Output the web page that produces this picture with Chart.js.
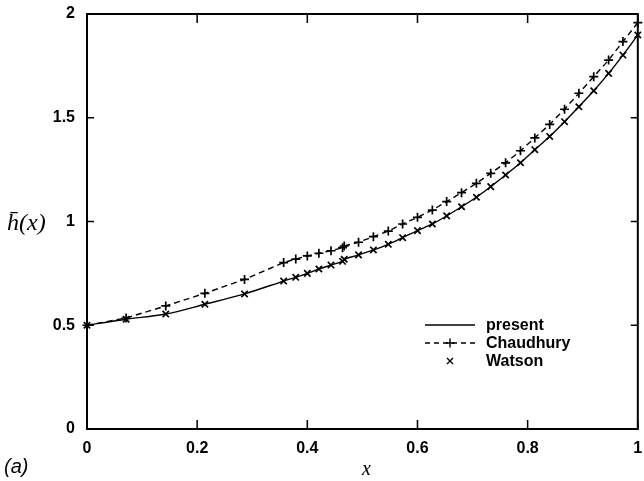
<!DOCTYPE html>
<html>
<head>
<meta charset="utf-8">
<script src="https://cdn.jsdelivr.net/npm/chart.js@4/dist/chart.umd.min.js"></script>
<style>
  html, body { margin: 0; padding: 0; background: #fff; }
  #wrap { width: 644px; height: 481px; }
</style>
</head>
<body>
<div id="wrap"><canvas id="myChart" width="644" height="481"></canvas></div>
<script>
// values
const xValues = [0, 0.071, 0.143, 0.214, 0.286, 0.357, 0.379, 0.4, 0.421, 0.443, 0.464, 0.467,
    0.493, 0.52, 0.547, 0.573, 0.6, 0.627, 0.653, 0.68, 0.707, 0.733, 0.76, 0.787, 0.813,
    0.84, 0.867, 0.893, 0.92, 0.947, 0.973, 1.0];
const chaudhuryY = [0.5, 0.535, 0.593, 0.654, 0.721, 0.802, 0.819, 0.834, 0.847, 0.859, 0.874, 0.882,
    0.9, 0.927, 0.954, 0.988, 1.02, 1.055, 1.096, 1.139, 1.184, 1.232, 1.283, 1.341, 1.403,
    1.468, 1.541, 1.618, 1.698, 1.778, 1.867, 1.958];
const watsonY = [0.5, 0.529, 0.554, 0.601, 0.651, 0.713, 0.731, 0.75, 0.771, 0.79, 0.808, 0.818,
    0.839, 0.863, 0.89, 0.922, 0.956, 0.988, 1.027, 1.071, 1.117, 1.168, 1.224, 1.283, 1.346,
    1.41, 1.481, 1.553, 1.63, 1.714, 1.802, 1.899];
const presentY = watsonY;
const xTicks = [0, 0.2, 0.4, 0.6, 0.8, 1];
const yTicks = [0, 0.5, 1, 1.5, 2];
const seriesNames = ['present', 'Chaudhury', 'Watson'];

const toPoints = (ys) => xValues.map((x, i) => ({ x: x, y: ys[i] }));

const tickFont = { family: 'Liberation Sans, Arial, sans-serif', size: 16, weight: 'bold' };

// box round the plot with ticks pointing inwards, on all four sides
const frame = {
    id: 'frame',
    afterDraw(chart) {
        const { ctx, chartArea: a, scales } = chart;
        ctx.save();
        ctx.strokeStyle = '#000';
        ctx.lineWidth = 2;
        ctx.strokeRect(a.left, a.top, a.right - a.left, a.bottom - a.top);
        ctx.lineWidth = 1.5;
        ctx.beginPath();
        xTicks.forEach(v => {
            const px = scales.x.getPixelForValue(v);
            ctx.moveTo(px, a.bottom); ctx.lineTo(px, a.bottom - 9);
            ctx.moveTo(px, a.top); ctx.lineTo(px, a.top + 9);
        });
        yTicks.forEach(v => {
            const py = scales.y.getPixelForValue(v);
            ctx.moveTo(a.left, py); ctx.lineTo(a.left + 7, py);
            ctx.moveTo(a.right, py); ctx.lineTo(a.right - 7, py);
        });
        ctx.stroke();
        ctx.restore();
    }
};

// legend, axis titles and panel label
const labels = {
    id: 'labels',
    afterDraw(chart) {
        const { ctx, chartArea: a } = chart;
        ctx.save();
        ctx.fillStyle = '#000';
        ctx.strokeStyle = '#000';

        // y title
        ctx.font = 'italic 24px "Liberation Serif", serif';
        ctx.textBaseline = 'middle';
        ctx.textAlign = 'left';
        ctx.fillText('h\u0304(x)', 7, 224);
        // x title
        ctx.font = 'italic 20px "Liberation Serif", serif';
        ctx.textAlign = 'center';
        ctx.fillText('x', (a.left + a.right) / 2 + 4, 470);
        // panel label
        ctx.font = 'italic 20px "Liberation Sans", sans-serif';
        ctx.textAlign = 'left';
        ctx.fillText('(a)', 4, 467);

        // legend
        const lx0 = 425, lx1 = 475, tx = 486;
        const rows = [325, 343, 361];
        ctx.font = 'bold 16px "Liberation Sans", sans-serif';
        ctx.textAlign = 'left';
        rows.forEach((y, i) => ctx.fillText(seriesNames[i], tx, y + 1));

        ctx.lineWidth = 1.4;
        ctx.beginPath();
        ctx.moveTo(lx0, rows[0]); ctx.lineTo(lx1, rows[0]);
        ctx.stroke();

        ctx.setLineDash([5, 4]);
        ctx.beginPath();
        ctx.moveTo(lx0, rows[1]); ctx.lineTo(lx1, rows[1]);
        ctx.stroke();
        ctx.setLineDash([]);
        const mx = (lx0 + lx1) / 2;
        ctx.beginPath();
        ctx.moveTo(mx - 4.5, rows[1]); ctx.lineTo(mx + 4.5, rows[1]);
        ctx.moveTo(mx, rows[1] - 4.5); ctx.lineTo(mx, rows[1] + 4.5);
        ctx.moveTo(mx - 3, rows[2] - 3); ctx.lineTo(mx + 3, rows[2] + 3);
        ctx.moveTo(mx + 3, rows[2] - 3); ctx.lineTo(mx - 3, rows[2] + 3);
        ctx.stroke();
        ctx.restore();
    }
};

const ctx = document.getElementById('myChart').getContext('2d');

new Chart(ctx, {
    type: 'scatter',
    data: {
        datasets: [
            {
                label: seriesNames[0],
                data: toPoints(presentY),
                showLine: true,
                borderColor: '#000',
                borderWidth: 1.4,
                pointRadius: 0,
                tension: 0.3,
                clip: false,
            },
            {
                label: seriesNames[1],
                data: toPoints(chaudhuryY),
                showLine: true,
                borderColor: '#000',
                borderWidth: 1.4,
                borderDash: [6, 4],
                pointStyle: 'cross',
                pointRadius: 4.5,
                pointBorderWidth: 1.7,
                pointBorderColor: '#000',
                tension: 0,
                clip: false,
            },
            {
                label: seriesNames[2],
                data: toPoints(watsonY),
                showLine: false,
                pointStyle: 'crossRot',
                pointRadius: 4.5,
                pointBorderWidth: 1.7,
                pointBorderColor: '#000',
                clip: false,
            },
        ],
    },
    options: {
        responsive: false,
        animation: false,
        events: [],
        layout: {
            padding: { top: 14, right: 4, left: 0, bottom: 0 },
        },
        plugins: {
            legend: { display: false },
            tooltip: { enabled: false },
        },
        scales: {
            x: {
                type: 'linear',
                min: 0,
                max: 1,
                afterBuildTicks: (scale) => { scale.ticks = xTicks.map(v => ({ value: v })); },
                afterFit: (scale) => {
                    scale.height = 52;
                    scale.paddingLeft = 0;
                    scale.paddingRight = 0;
                },
                ticks: {
                    color: '#000',
                    font: tickFont,
                    padding: 10,
                    maxRotation: 0,
                    callback: (v) => String(v),
                },
                grid: { display: false, drawTicks: false },
                border: { display: false },
            },
            y: {
                type: 'linear',
                min: 0,
                max: 2,
                afterBuildTicks: (scale) => { scale.ticks = yTicks.map(v => ({ value: v })); },
                afterFit: (scale) => {
                    scale.width = 87;
                    scale.paddingTop = 0;
                    scale.paddingBottom = 0;
                },
                ticks: {
                    color: '#000',
                    font: tickFont,
                    padding: 12,
                    callback: (v) => String(v),
                },
                grid: { display: false, drawTicks: false },
                border: { display: false },
            },
        },
    },
    plugins: [frame, labels],
});
</script>
</body>
</html>
